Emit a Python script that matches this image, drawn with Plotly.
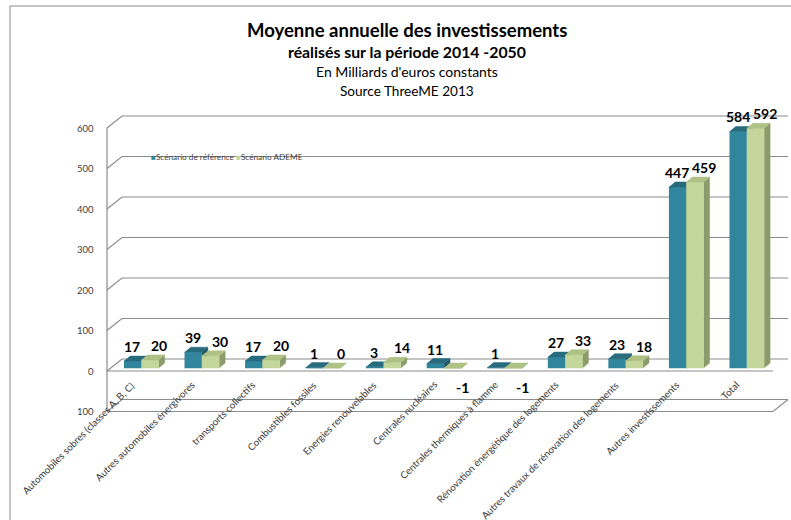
import plotly.graph_objects as go

# ---- data -----------------------------------------------------------------
categories = [
    "Automobiles sobres (classes A, B, C)",
    "Autres automobiles énergivores",
    "transports collectifs",
    "Combustibles fossiles",
    "Energies renouvelables",
    "Centrales nucléaires",
    "Centrales thermiques à flamme",
    "Rénovation énergétique des logements",
    "Autres travaux de rénovation des logements",
    "Autres investissements",
    "Total",
]
ref_values = [17, 39, 17, 1, 3, 11, 1, 27, 23, 447, 584]
ademe_values = [20, 30, 20, 0, 14, -1, -1, 33, 18, 459, 592]
series_names = ["Scénario de référence", "Scénario ADEME"]

y_ticks = [-100, 0, 100, 200, 300, 400, 500, 600]
y_tick_labels = ["100", "0", "100", "200", "300", "400", "500", "600"]

title_lines = [
    "Moyenne annuelle des investissements",
    "réalisés sur la période 2014 -2050",
    "En Milliards d'euros constants",
    "Source ThreeME 2013",
]

# ---- page geometry ----------------------------------------------------------
W, H = 791, 520
LEFT_PX = 107      # left edge of the front plane
CAT_PX = 60.55     # width of one category slot
ZERO_PX = 371      # vertical position of value 0 on the front plane
UNIT_PX = 0.405    # pixels per value unit

x_range = [-0.5 - LEFT_PX / CAT_PX, -0.5 + (W - LEFT_PX) / CAT_PX]
y_range = [(ZERO_PX - H) / UNIT_PX, ZERO_PX / UNIT_PX]


def dx(px):
    return px / CAT_PX


def dy(px):
    return px / UNIT_PX


wall_dx, wall_dy = dx(15), dy(12)     # depth of the walls
bar_dx, bar_dy = dx(4), dy(3)         # bars sit a little behind the front plane
depth_dx, depth_dy = dx(6), dy(5)     # depth of each bar
bar_w = dx(17.3)

FONT = "Lato"
TEAL = dict(front="#31859C", top="#276B7D", side="#21596A")
GREEN = dict(front="#C3D69B", top="#AFC184", side="#8B9B6B")
GRID = "#8C8C8C"

fig = go.Figure()

# ---- walls, floor and gridlines --------------------------------------------
lo_t, hi_t = min(y_ticks), max(y_ticks)
gx, gy = [], []
for t in y_ticks:
    gx += [-0.5, -0.5 + wall_dx, len(categories) - 0.5 + wall_dx, None]
    gy += [t, t + wall_dy, t + wall_dy, None]
# floor front edge and right side
gx += [-0.5, len(categories) - 0.5, len(categories) - 0.5 + wall_dx, None]
gy += [lo_t, lo_t, lo_t + wall_dy, None]
# zero line on the front plane
gx += [-0.5, len(categories) - 0.5, None]
gy += [0, 0, None]
# value axis
gx += [-0.5, -0.5]
gy += [lo_t, hi_t]
fig.add_trace(go.Scatter(x=gx, y=gy, mode="lines",
                         line=dict(color=GRID, width=1.2),
                         hoverinfo="skip", showlegend=False))


# ---- 3D columns --------------------------------------------------------------
def faces(values, offset):
    front, top, side = ([], []), ([], []), ([], [])

    def add(poly, pts):
        for p in pts:
            poly[0].append(p[0])
            poly[1].append(p[1])
        poly[0].append(None)
        poly[1].append(None)

    for i, v in enumerate(values):
        x0 = i + offset + bar_dx
        x1 = x0 + bar_w
        lo = bar_dy + min(0, v)
        hi = bar_dy + max(0, v)
        add(front, [(x0, lo), (x1, lo), (x1, hi), (x0, hi)])
        add(top, [(x0, hi), (x1, hi), (x1 + depth_dx, hi + depth_dy),
                  (x0 + depth_dx, hi + depth_dy)])
        add(side, [(x1, lo), (x1 + depth_dx, lo + depth_dy),
                   (x1 + depth_dx, hi + depth_dy), (x1, hi)])
    return front, top, side


for values, offset, col, name in [
    (ref_values, -bar_w, TEAL, series_names[0]),
    (ademe_values, 0.0, GREEN, series_names[1]),
]:
    front, top, side = faces(values, offset)
    for poly, key in [(side, "side"), (front, "front"), (top, "top")]:
        fig.add_trace(go.Scatter(
            x=poly[0], y=poly[1], mode="lines", fill="toself",
            fillcolor=col[key], line=dict(color=col[key], width=0.5),
            name=name, hoverinfo="skip", showlegend=False))

# ---- data labels ------------------------------------------------------------
annotations = []
for values, offset, shift_px in [(ref_values, -bar_w, -0.5), (ademe_values, 0.0, 9.5)]:
    for i, v in enumerate(values):
        xc = i + offset + bar_dx + bar_w / 2 + dx(shift_px)
        if v >= 0:
            y, ys = bar_dy + v, 14.5
        else:
            y, ys = bar_dy + v, -19
        annotations.append(dict(
            x=xc, y=y, xref="x", yref="y", text=f"<b>{v}</b>", showarrow=False,
            xanchor="center", yanchor="middle", yshift=ys,
            font=dict(family=FONT, size=14, color="#000000")))

# ---- value axis labels ------------------------------------------------------
for t, lab in zip(y_ticks, y_tick_labels):
    annotations.append(dict(
        x=-0.5 + dx(-11), y=t, xref="x", yref="y", text=lab, showarrow=False,
        xanchor="right", yanchor="middle",
        font=dict(family=FONT, size=9.5, color="#404040")))

# ---- category labels (rotated) -------------------------------------------------
for i, cat in enumerate(categories):
    annotations.append(dict(
        x=i + dx(2), y=-dy(5), xref="x", yref="y", text=cat, showarrow=False,
        textangle=-45, xanchor="right", yanchor="top",
        font=dict(family=FONT, size=9.8, color="#3A3A3A")))

# ---- legend -------------------------------------------------------------------
legend_text = (f"<span style='color:{TEAL['front']}'>■</span>{series_names[0]} "
               f"<span style='color:{GREEN['front']}'>■</span>{series_names[1]}")
annotations.append(dict(
    x=149 / W, y=1 - 157 / H, xref="paper", yref="paper", text=legend_text,
    showarrow=False, xanchor="left", yanchor="middle",
    font=dict(family=FONT, size=8.2, color="#404040")))

# ---- title block ---------------------------------------------------------------
title_styles = [(30, 18.5, True), (52, 15.8, True), (72, 14, False), (91, 13.6, False)]
for line, (ypx, size, bold) in zip(title_lines, title_styles):
    annotations.append(dict(
        x=407 / W, y=1 - ypx / H, xref="paper", yref="paper",
        text=f"<b>{line}</b>" if bold else line, showarrow=False,
        xanchor="center", yanchor="middle",
        font=dict(family=FONT, size=size, color="#000000")))

# ---- chart frame ----------------------------------------------------------------
shapes = [dict(type="rect", xref="paper", yref="paper",
               x0=10 / W, y0=-0.05, x1=1.05, y1=1 - 6 / H,
               line=dict(color="#888888", width=1), fillcolor="rgba(0,0,0,0)")]

fig.update_layout(
    width=W, height=H,
    margin=dict(l=0, r=0, t=0, b=0),
    paper_bgcolor="#FFFFFF", plot_bgcolor="#FFFFFF",
    xaxis=dict(range=x_range, visible=False, fixedrange=True),
    yaxis=dict(range=y_range, visible=False, fixedrange=True),
    annotations=annotations, shapes=shapes,
    hovermode=False, showlegend=False,
)

fig.write_html("out.html")
